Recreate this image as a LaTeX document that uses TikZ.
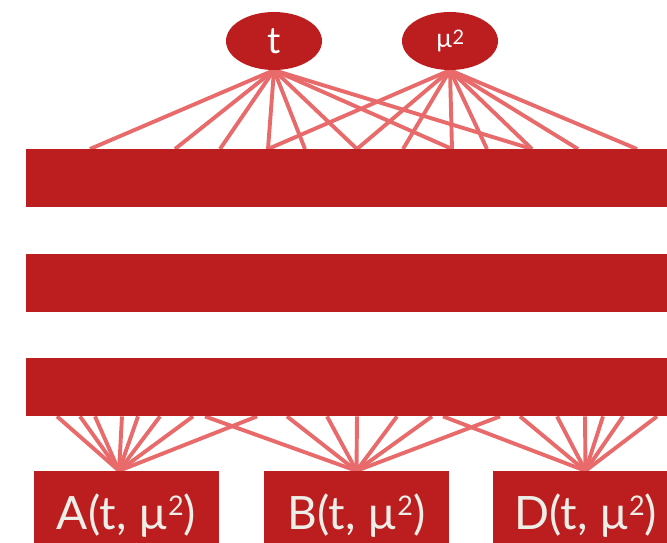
\documentclass[tikz,border=0pt]{standalone}
\usepackage{fontspec}
\setmainfont{Lato}
\usetikzlibrary{shapes.geometric}
\pgfdeclarelayer{bg}
\pgfsetlayers{bg,main}
\definecolor{dred}{HTML}{BC1E1F}
\definecolor{lred}{HTML}{E86A6A}
\definecolor{offw}{HTML}{EEEEE8}
\newcommand{\sqnum}[2]{\raisebox{#2}{\fontsize{#1}{#1}\selectfont 2}}
\begin{document}
\begin{tikzpicture}[x=1pt,y=-1pt,
  var/.style={ellipse, fill=dred, text=white, minimum width=96pt, minimum height=58pt, inner sep=0pt},
  bar/.style={rectangle, fill=dred, minimum width=654pt, minimum height=58pt, inner sep=0pt, anchor=north west},
  outbox/.style={rectangle, fill=dred, text=offw, minimum width=185pt, minimum height=90pt, inner sep=0pt, font=\fontsize{46}{46}\selectfont},
  link/.style={draw=lred, line width=3.9pt}]
\useasboundingbox (0,0) rectangle (667,542);
\node[var, font=\fontsize{37}{37}\selectfont] (t) at (274,41) {\raisebox{-3pt}{t}};
\node[var, font=\fontsize{26}{26}\selectfont] (mu) at (450,41) {\raisebox{-3pt}{µ\sqnum{20}{3pt}}};
\node[bar] (bar1) at (26,149) {};
\node[bar] (bar2) at (26,254) {};
\node[bar] (bar3) at (26,358) {};
\node[outbox] (A) at (126.5,516) {A(t, µ\sqnum{27}{14pt})};
\node[outbox] (B) at (356.5,516) {B(t, µ\sqnum{27}{14pt})};
\node[outbox] (D) at (585.5,516) {D(t, µ\sqnum{27}{14pt})};
\begin{pgfonlayer}{bg}
\foreach \s in {64,149,194,242,279,331,426,506}
  \draw[link] (t.south) -- ([xshift=\s pt]bar1.north west);
\foreach \s in {242,331,377,426,461,506,552,611}
  \draw[link] (mu.south) -- ([xshift=\s pt]bar1.north west);
\foreach \s in {31,54,69,96,112,134,167,231}
  \draw[link] ([xshift=-7.5pt]A.north) -- ([xshift=\s pt]bar3.south west);
\foreach \s in {179,261,301,331,371,406,474}
  \draw[link] (B.north) -- ([xshift=\s pt]bar3.south west);
\foreach \s in {417,494,531,559,577,597,631}
  \draw[link] (D.north) -- ([xshift=\s pt]bar3.south west);
\end{pgfonlayer}
\end{tikzpicture}
\end{document}
